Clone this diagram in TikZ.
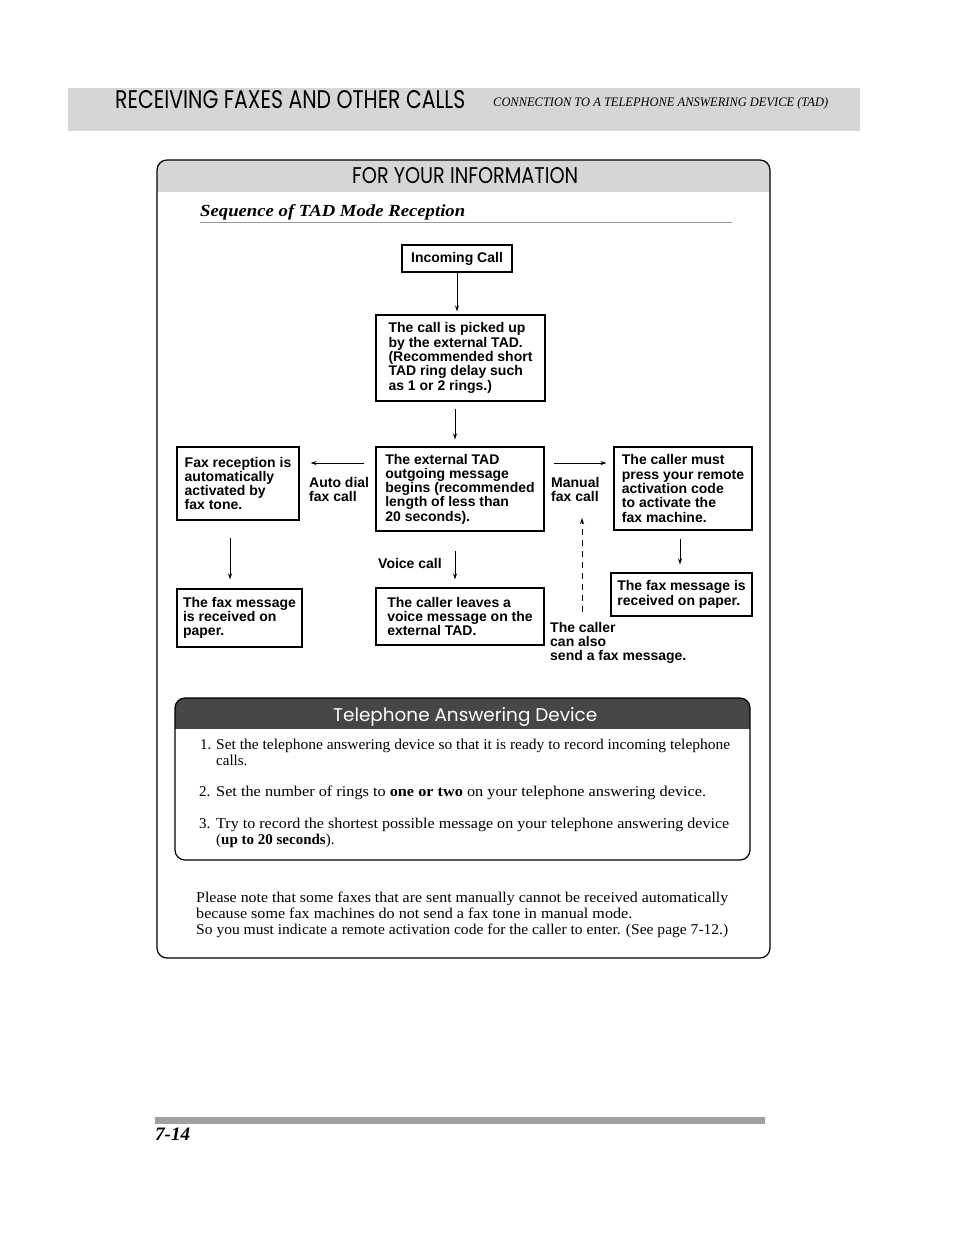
\documentclass[tikz,border=0pt]{standalone}
\usepackage{graphicx}
\usepackage{fontspec}
\setmainfont{Liberation Serif}
\setsansfont{Liberation Sans}
\newfontfamily\headfont{Poppins}
\usetikzlibrary{arrows.meta,positioning}
\definecolor{band}{HTML}{D6D6D6}
\definecolor{darkband}{HTML}{464646}
\definecolor{rulegrey}{HTML}{A0A0A0}
\newcommand{\fitto}[2]{\resizebox{#1}{\height}{#2}}
\newcommand{\flowfont}{\sffamily\bfseries\fontsize{14}{14.3}\selectfont}
\newcommand{\bodyfont}{\fontsize{15}{16}\selectfont}
\tikzset{frame/.style={draw=black,line width=1.2pt}, flowbox/.style={draw,line width=1.1pt,inner sep=0pt,align=left,font=\flowfont}, flowlabel/.style={inner sep=0pt,align=left,font=\flowfont}, flowarrow/.style={-{Stealth[length=6pt,width=4pt]},line width=.7pt}, bodyline/.style={anchor=base west,inner sep=0pt,font=\bodyfont}, plain/.style={anchor=base west,inner sep=0pt}, guideline/.style={line width=.6pt,black!40}}

\begin{document}
\begin{tikzpicture}[x=1pt,y=-1pt]
\useasboundingbox (0,0) rectangle (954,1235);
% page header
\fill[band] (68,88) rectangle (860,131);
\node[plain] (pagetitle) at (115,108) {\resizebox{350pt}{18pt}{\headfont RECEIVING FAXES AND OTHER CALLS}};
\node[plain] (pagesub) at (493,106) {\resizebox{335pt}{9pt}{\itshape CONNECTION TO A TELEPHONE ANSWERING DEVICE (TAD)}};
% information frame
\begin{scope}
\clip[rounded corners=10pt] (157,160) rectangle (770,958);
\fill[band] (157,160) rectangle (770,192);
\end{scope}
\draw[frame,rounded corners=10pt] (157,160) rectangle (770,958);
\node[plain] (fyi) at (352,183) {\resizebox{226pt}{16pt}{\headfont FOR YOUR INFORMATION}};
\node[plain] (seqtitle) at (200,216) {\fitto{265pt}{\fontsize{17}{20}\selectfont\bfseries\itshape Sequence of TAD Mode Reception}};
\draw[guideline] (200,222) -- (732,222);
% flow chart
\node[flowbox,minimum width=110pt,minimum height=27pt] (incoming) at (457,258.5) {Incoming Call};
\node[flowbox,minimum width=169pt,minimum height=86pt] (picked) at (460.5,358) {The call is picked up\\by the external TAD.\\(Recommended short\\TAD ring delay such\\as 1 or 2 rings.)};
\node[flowbox,minimum width=168pt,minimum height=84pt] (tad) at (460,489) {The external TAD\\outgoing message\\begins (recommended\\length of less than\\20 seconds).};
\node[flowbox,minimum width=122pt,minimum height=73pt] (fax) at (238,483.5) {Fax reception is\\automatically\\activated by\\fax tone.};
\node[flowbox,minimum width=138pt,minimum height=83pt] (callermust) at (683,488.5) {The caller must\\press your remote\\activation code\\to activate the\\fax machine.};
\node[flowbox,minimum width=125pt,minimum height=58pt] (faxpaper) at (239.5,618) {The fax message\\is received on\\paper.};
\node[flowbox,minimum width=168pt,minimum height=57pt] (leaves) at (460,616.5) {The caller leaves a\\voice message on the\\external TAD.};
\node[flowbox,minimum width=141pt,minimum height=43pt] (faxright) at (681.5,594.5) {The fax message is\\received on paper.};
\node[flowlabel,anchor=north west] (autodial) at (309,477) {Auto dial\\fax call};
\node[flowlabel,anchor=north west] (manual) at (551,477) {Manual\\fax call};
\node[flowlabel,anchor=west] (voice) at (378,563) {Voice call};
\node[flowlabel,anchor=north west] (sendfax) at (550,622) {The caller\\can also\\send a fax message.};
\coordinate (dashtip) at (582,518);
\draw[flowarrow,shorten >=3pt] (incoming.south) -- (incoming.south |- picked.north);
\draw[flowarrow,shorten <=7pt,shorten >=7pt] (picked.south -| 455,0) -- (tad.north -| 455,0);
\draw[flowarrow,shorten <=11pt,shorten >=11pt] (tad.west |- 0,463) -- (fax.east |- 0,463);
\draw[flowarrow,shorten <=9pt,shorten >=7pt] (tad.east |- 0,463) -- (callermust.west |- 0,463);
\draw[flowarrow,shorten <=17pt,shorten >=9pt] (fax.south -| 230,0) -- (faxpaper.north -| 230,0);
\draw[flowarrow,shorten <=19pt,shorten >=8pt] (tad.south -| 455,0) -- (leaves.north -| 455,0);
\draw[flowarrow,shorten <=8pt,shorten >=8pt] (callermust.south -| 680,0) -- (faxright.north -| 680,0);
\draw[flowarrow,dash pattern=on 6pt off 5pt,shorten <=10pt] (sendfax.north -| dashtip) -- (dashtip);
% answering device box
\begin{scope}
\clip[rounded corners=10pt] (175,698) rectangle (750,860);
\fill[darkband] (175,698) rectangle (750,729);
\end{scope}
\draw[frame,rounded corners=10pt] (175,698) rectangle (750,860);
\node[plain,text=white] (tadtitle) at (333,721) {\resizebox{264pt}{!}{\headfont\fontsize{20}{24}\selectfont Telephone Answering Device}};
\node[bodyline] (num1) at (200,749) {1.};
\node[bodyline] (item1a) at (216,749) {\fitto{514pt}{Set the telephone answering device so that it is ready to record incoming telephone}};
\node[bodyline] (item1b) at (216,765) {calls.};
\node[bodyline] (num2) at (199,796) {2.};
\node[bodyline] (item2) at (216,796) {\fitto{490pt}{Set the number of rings to \textbf{one or two} on your telephone answering device.}};
\node[bodyline] (num3) at (199,828) {3.};
\node[bodyline] (item3a) at (216,828) {\fitto{513pt}{Try to record the shortest possible message on your telephone answering device}};
\node[bodyline] (item3b) at (216,844) {(\textbf{up to 20 seconds}).};
% note
\node[bodyline] (note1) at (196,902) {\fitto{532pt}{Please note that some faxes that are sent manually cannot be received automatically}};
\node[bodyline] (note2) at (196,918) {\fitto{436pt}{because some fax machines do not send a fax tone in manual mode.}};
\node[bodyline] (note3) at (196,934) {\fitto{532pt}{So you must indicate a remote activation code for the caller to enter. (See page 7-12.)}};
% page footer
\fill[rulegrey] (155,1117) rectangle (765,1124);
\node[plain] (pagenum) at (155,1140) {\fitto{35pt}{\fontsize{19}{22}\selectfont\bfseries\itshape 7-14}};
\end{tikzpicture}
\end{document}
